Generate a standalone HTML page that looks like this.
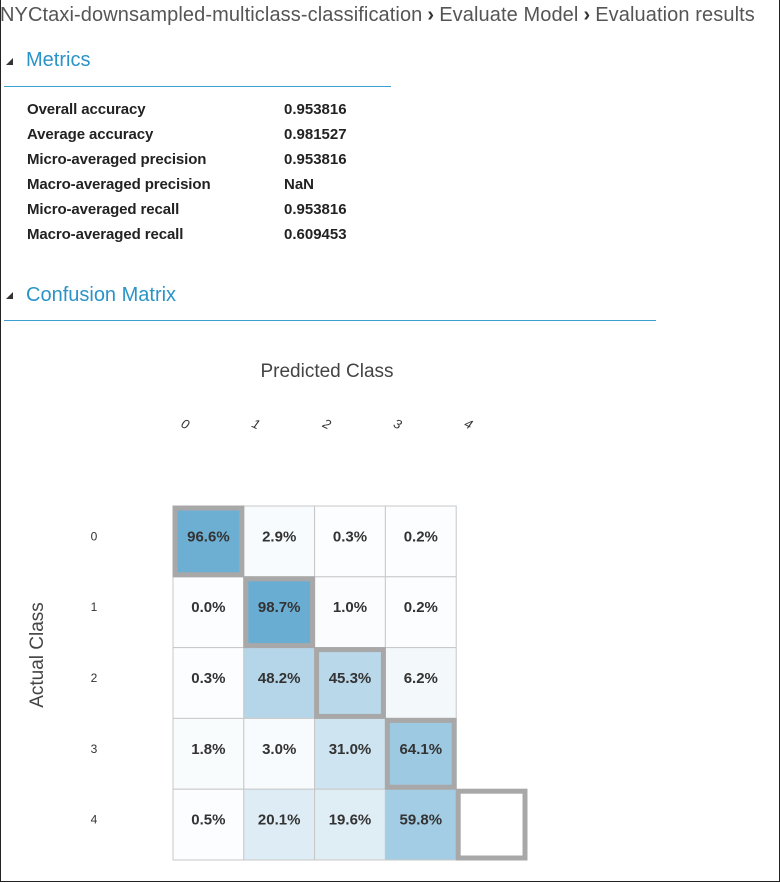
<!DOCTYPE html>
<html><head><meta charset="utf-8"><style>
body{margin:0;width:780px;height:883px;overflow:hidden;background:#fff;font-family:"Liberation Sans",sans-serif;position:relative}
.frame{position:absolute;left:0;top:0;width:778px;height:881px;border-right:1px solid #222;border-bottom:1px solid #222;border-left:1px solid #222}
.crumb{position:absolute;left:0;top:4px;font-size:20px;color:#555;white-space:nowrap;letter-spacing:0.1px}
.crumb b{font-weight:bold;color:#333;margin:0 5px}
.hdr{position:absolute;left:26px;font-size:20px;color:#2a94c8}
.tri{position:absolute;left:6px;width:0;height:0;border-left:7px solid transparent;border-bottom:7px solid #333}
.rule{position:absolute;left:4px;height:1px;background:#3aa0cf}
.ml{position:absolute;left:27px;font-size:15px;color:#222;font-weight:bold;letter-spacing:-0.1px}
.mv{position:absolute;left:284px;font-size:15px;color:#222;font-weight:bold}
</style></head><body>
<div class="frame"></div>
<div class="crumb"><span>NYCtaxi-downsampled-multiclass-classification</span><b>›</b><span>Evaluate Model</span><b>›</b><span>Evaluation results</span></div>
<div class="tri" style="top:58px"></div>
<div class="hdr" style="top:49px">Metrics</div>
<div class="rule" style="top:86px;width:387px"></div>
<div>
<div class="ml" style="top:101px">Overall accuracy</div><div class="mv" style="top:101px">0.953816</div>
<div class="ml" style="top:126px">Average accuracy</div><div class="mv" style="top:126px">0.981527</div>
<div class="ml" style="top:151px">Micro-averaged precision</div><div class="mv" style="top:151px">0.953816</div>
<div class="ml" style="top:176px">Macro-averaged precision</div><div class="mv" style="top:176px">NaN</div>
<div class="ml" style="top:201px">Micro-averaged recall</div><div class="mv" style="top:201px">0.953816</div>
<div class="ml" style="top:226px">Macro-averaged recall</div><div class="mv" style="top:226px">0.609453</div>
</div>
<div class="tri" style="top:292px"></div>
<div class="hdr" style="top:284px">Confusion Matrix</div>
<div class="rule" style="top:320px;width:652px"></div>
<svg id="cm" width="780" height="883" style="position:absolute;left:0;top:0"></svg>
<script>
const classes=["0","1","2","3","4"];
const row0=[96.6,2.9,0.3,0.2];
const row1=[0.0,98.7,1.0,0.2];
const row2=[0.3,48.2,45.3,6.2];
const row3=[1.8,3.0,31.0,64.1];
const row4=[0.5,20.1,19.6,59.8];
const rows=[row0,row1,row2,row3,row4];
const NS="http://www.w3.org/2000/svg";
const svg=document.getElementById('cm');
const x0=173,y0=506,cw=70.8,ch=70.8;
const xs=i=>x0+i*cw, ys=j=>y0+j*ch;
function col(v){const t=v/100;const a=[252,253,254],b=[104,172,210];return `rgb(${a.map((c,i)=>Math.round(c+(b[i]-c)*t)).join(',')})`;}
function mk(tag,at){const e=document.createElementNS(NS,tag);for(const k in at)e.setAttribute(k,at[k]);svg.appendChild(e);return e;}
let t=mk('text',{x:327,y:377,'font-size':19,fill:'#444','text-anchor':'middle'});t.textContent='Predicted Class';


t=mk('text',{x:0,y:0,'font-size':19,fill:'#444','text-anchor':'middle',transform:'translate(43,655) rotate(-90)'});t.textContent='Actual Class';


classes.forEach((c,i)=>{
 let e=mk('text',{x:0,y:0,'font-size':13,fill:'#333','font-style':'italic','text-anchor':'middle',transform:`translate(${xs(i)+cw/2-25},428) rotate(25)`});e.textContent=c;
 
 
 e=mk('text',{x:94,y:ys(i)+ch/2-1,'font-size':12,fill:'#333','text-anchor':'middle'});e.textContent=c;
 
 
});
rows.forEach((r,j)=>r.forEach((v,i)=>{
 const g=mk('rect',{x:xs(i),y:ys(j),width:cw,height:ch,fill:col(v),stroke:'#c8c8c8','stroke-width':1});
 
 
 const tx=mk('text',{x:xs(i)+cw/2,y:ys(j)+ch/2,'font-size':15,'font-weight':'bold',fill:'#333','text-anchor':'middle'});tx.textContent=v.toFixed(1)+'%';
 
 
}));
classes.forEach((c,i)=>{
 const h=mk('rect',{x:xs(i)+2,y:ys(i)+2,width:cw-4,height:ch-4,fill:'none',stroke:'#a8a8a8','stroke-width':5});
 
 
});
</script>
</body></html>
